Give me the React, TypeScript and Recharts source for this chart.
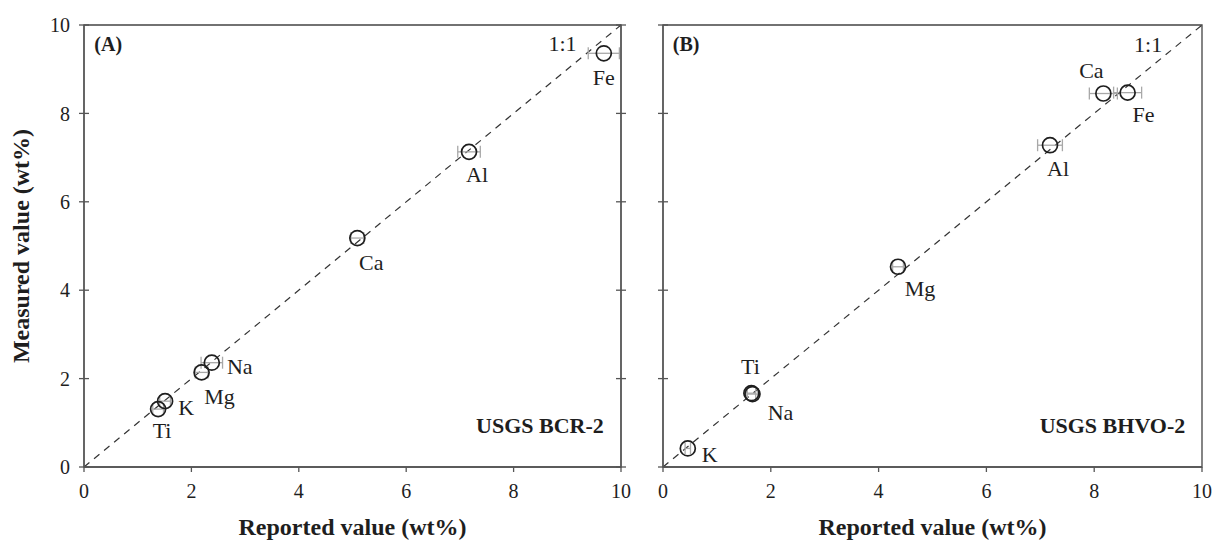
import React from 'react';
import {
  ScatterChart,
  Scatter,
  XAxis,
  YAxis,
  ReferenceLine,
  ReferenceArea,
  ReferenceDot,
  ErrorBar,
} from 'recharts';

const FONT = '"Liberation Serif", "Times New Roman", Times, serif';
const INK = '#1e1e1e';
const AXIS = '#555555';

// ---------- data ----------
const axisTicks = [0, 2, 4, 6, 8, 10];

const elementsA = ['Fe', 'Al', 'Ca', 'Na', 'Mg', 'K', 'Ti'];
const reportedA = [9.68, 7.17, 5.09, 2.38, 2.19, 1.51, 1.38];
const measuredA = [9.36, 7.13, 5.18, 2.36, 2.14, 1.49, 1.31];
const errorA = [0.29, 0.21, 0.12, 0.2, 0.12, 0.1, 0.1];

const elementsB = ['Ca', 'Fe', 'Al', 'Mg', 'Ti', 'Na', 'K'];
const reportedB = [8.17, 8.62, 7.18, 4.36, 1.64, 1.66, 0.46];
const measuredB = [8.45, 8.47, 7.28, 4.53, 1.67, 1.65, 0.42];
const errorB = [0.26, 0.26, 0.23, 0.1, 0.08, 0.1, 0.05];

const oneToOne = [
  { x: 0, y: 0 },
  { x: 10, y: 10 },
];

// label placement (pixel offsets from each point)
const labelOffsetA: Record<string, [number, number]> = {
  Fe: [0, 24],
  Al: [8, 23],
  Ca: [14, 24],
  Na: [28, 4],
  Mg: [18, 24],
  K: [21, 6],
  Ti: [4, 21],
};
const labelOffsetB: Record<string, [number, number]> = {
  Ca: [-12, -23],
  Fe: [16, 22],
  Al: [8, 23],
  Mg: [22, 22],
  Ti: [-1, -27],
  Na: [28, 18],
  K: [22, 6],
};

const build = (names: string[], xs: number[], ys: number[], es: number[]) =>
  names.map((name, i) => ({ name, x: xs[i], y: ys[i], xErr: es[i] }));

const dataA = build(elementsA, reportedA, measuredA, errorA);
const dataB = build(elementsB, reportedB, measuredB, errorB);

// ---------- helpers ----------
const makeShape = (offsets: Record<string, [number, number]>) => (props: any) => {
  const { cx, cy, payload } = props;
  const off = offsets[payload.name] || [0, 0];
  return (
    <g>
      <circle cx={cx} cy={cy} r={7.5} fill="none" stroke={INK} strokeWidth={1.7} />
      <text
        x={cx + off[0]}
        y={cy + off[1] + 7.5}
        textAnchor="middle"
        fontSize={22}
        fontFamily={FONT}
        fill={INK}
      >
        {payload.name}
      </text>
    </g>
  );
};

const annot = (
  key: string,
  x: number,
  y: number,
  text: string,
  anchor: 'start' | 'middle' | 'end',
  size: number,
  bold: boolean
) => (
  <ReferenceDot
    key={key}
    x={x}
    y={y}
    r={0}
    fill="none"
    stroke="none"
    ifOverflow="visible"
    label={{
      content: (p: any) => {
        const vb = p.viewBox || {};
        const px = (vb.x ?? 0) + (vb.width ?? 0) / 2;
        const py = (vb.y ?? 0) + (vb.height ?? 0) / 2;
        return (
          <text
            x={px}
            y={py + size * 0.34}
            textAnchor={anchor}
            fontSize={size}
            fontWeight={bold ? 'bold' : 'normal'}
            fontFamily={FONT}
            fill={INK}
          >
            {text}
          </text>
        );
      },
    }}
  />
);

const tickStyle = { fill: INK, fontSize: 20, fontFamily: FONT };
const blank = () => '';

const xTitle = {
  content: (p: any) => {
    const vb = p.viewBox || {};
    return (
      <text
        x={vb.x + vb.width / 2}
        y={vb.y + 68}
        textAnchor="middle"
        fontSize={24}
        fontWeight="bold"
        fontFamily={FONT}
        fill={INK}
      >
        Reported value (wt%)
      </text>
    );
  },
};

const yTitle = {
  content: (p: any) => {
    const vb = p.viewBox || {};
    const cx = vb.x + 5;
    const cy = vb.y + vb.height / 2;
    return (
      <text
        x={cx}
        y={cy}
        transform={`rotate(-90 ${cx} ${cy})`}
        textAnchor="middle"
        fontSize={24}
        fontWeight="bold"
        fontFamily={FONT}
        fill={INK}
      >
        Measured value (wt%)
      </text>
    );
  },
};

const commonAxis = {
  type: 'number' as const,
  domain: [0, 10] as [number, number],
  ticks: axisTicks,
  interval: 0 as const,
  allowDataOverflow: true,
  stroke: AXIS,
  strokeWidth: 1.3,
  tickSize: 5,
};

export default function App() {
  return (
    <div
      style={{
        position: 'absolute',
        left: 0,
        top: 0,
        width: 1215,
        height: 547,
        background: '#ffffff',
        overflow: 'hidden',
      }}
    >
      {/* Panel A */}
      <div style={{ position: 'absolute', left: 0, top: 0 }}>
        <ScatterChart width={640} height={547} margin={{ top: 25, right: 9, bottom: 20, left: 24 }}>
          <XAxis {...commonAxis} dataKey="x" height={60} tick={tickStyle} tickMargin={12} label={xTitle} />
          <XAxis {...commonAxis} xAxisId="bm" orientation="bottom" mirror axisLine={false} tickFormatter={blank} />
          <YAxis {...commonAxis} dataKey="y" width={60} tick={tickStyle} tickMargin={9} label={yTitle} />
          <YAxis {...commonAxis} yAxisId="lm" mirror axisLine={false} tickFormatter={blank} />
          <YAxis {...commonAxis} yAxisId="r" orientation="right" width={10} tickFormatter={blank} />
          <YAxis {...commonAxis} yAxisId="rm" orientation="right" mirror axisLine={false} tickFormatter={blank} />
          <ReferenceArea x1={0} x2={10} y1={0} y2={10} fill="none" fillOpacity={0} stroke="#444" strokeWidth={1.3} />
          <ReferenceLine segment={oneToOne} stroke="#333" strokeWidth={1.2} strokeDasharray="7 6" />
          <Scatter data={dataA} shape={makeShape(labelOffsetA)} isAnimationActive={false}>
            <ErrorBar dataKey="xErr" direction="x" width={6} stroke="#a8a8a8" strokeWidth={1.3} isAnimationActive={false} />
          </Scatter>
          {annot('a-tag', 0.45, 9.56, '(A)', 'middle', 20, true)}
          {annot('a-11', 8.91, 9.59, '1:1', 'middle', 22, false)}
          {annot('a-std', 9.68, 0.93, 'USGS BCR-2', 'end', 22, true)}
        </ScatterChart>
      </div>

      {/* Panel B */}
      <div style={{ position: 'absolute', left: 640, top: 0 }}>
        <ScatterChart width={575} height={547} margin={{ top: 25, right: 13, bottom: 20, left: 10 }}>
          <XAxis {...commonAxis} dataKey="x" height={60} tick={tickStyle} tickMargin={12} label={xTitle} />
          <XAxis {...commonAxis} xAxisId="bm" orientation="bottom" mirror axisLine={false} tickFormatter={blank} />
          <YAxis {...commonAxis} dataKey="y" width={13} tickFormatter={blank} />
          <YAxis {...commonAxis} yAxisId="lm" mirror axisLine={false} tickFormatter={blank} />
          <ReferenceArea x1={0} x2={10} y1={0} y2={10} fill="none" fillOpacity={0} stroke="#444" strokeWidth={1.3} />
          <ReferenceLine segment={oneToOne} stroke="#333" strokeWidth={1.2} strokeDasharray="7 6" />
          <Scatter data={dataB} shape={makeShape(labelOffsetB)} isAnimationActive={false}>
            <ErrorBar dataKey="xErr" direction="x" width={6} stroke="#a8a8a8" strokeWidth={1.3} isAnimationActive={false} />
          </Scatter>
          {annot('b-tag', 0.43, 9.57, '(B)', 'middle', 20, true)}
          {annot('b-11', 9.0, 9.56, '1:1', 'middle', 22, false)}
          {annot('b-std', 9.69, 0.93, 'USGS BHVO-2', 'end', 22, true)}
        </ScatterChart>
      </div>
    </div>
  );
}
